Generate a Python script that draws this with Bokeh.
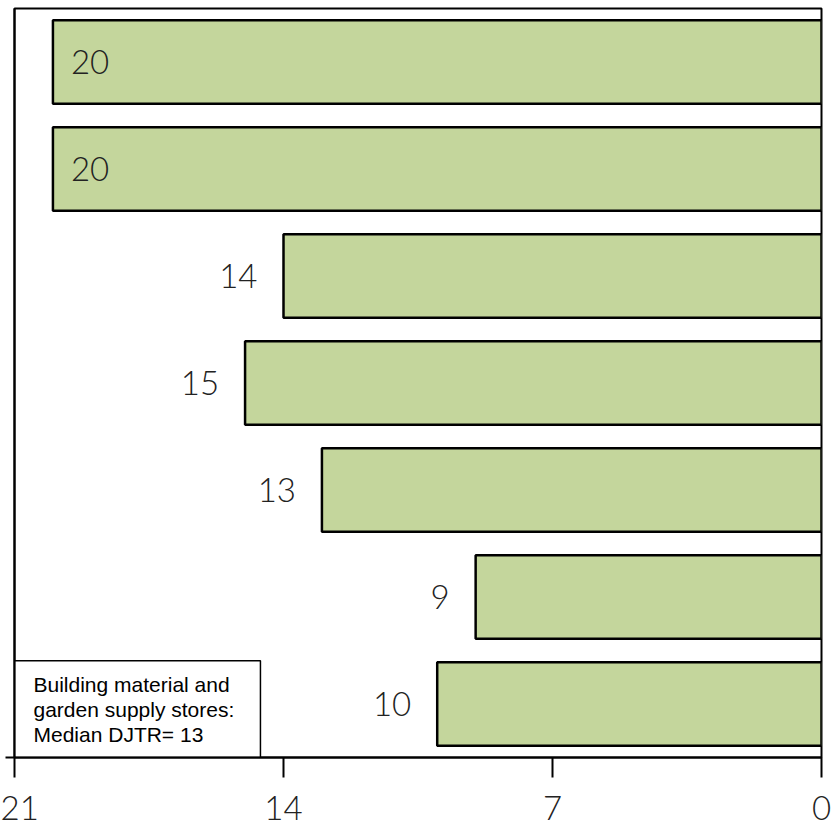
from bokeh.plotting import figure
from bokeh.models import Range1d, FixedTicker, LinearAxis, BoxAnnotation, ColumnDataSource
from bokeh.core.properties import value
from bokeh.embed import file_html
from bokeh.resources import INLINE

# Days-to-run values, top bar first
values = [20, 20, 14, 15, 13, 9, 10]
x_ticks = [21, 14, 7, 0]
note_lines = ["Building material and", "garden supply stores:", "Median DJTR= 13"]

n = len(values)
# row positions: first value drawn at top
rows = [n - 1 - i + 0.5 for i in range(n)]

NUM_FONT = "Lato Light, Lato"

p = figure(width=831, height=828, output_backend="svg", toolbar_location=None,
           x_range=Range1d(21, 0), y_range=Range1d(0, n),
           x_axis_location=None, y_axis_location=None,
           min_border_left=14, min_border_right=10, min_border_top=8, min_border_bottom=71)
p.grid.visible = False
p.outline_line_color = "black"
p.outline_line_width = 2
p.background_fill_color = "white"

# note box in the lower-left corner, kept beneath its text
p.add_layout(BoxAnnotation(left=21, right=14.6, bottom=0, top=0.905,
                           fill_color="white", fill_alpha=1.0,
                           line_color="black", line_alpha=1.0, line_width=1.5,
                           level="underlay"))

src = ColumnDataSource(dict(y=rows, v=values, lab=[str(v) for v in values]))
p.hbar(y="y", left=0, right="v", height=0.78, source=src,
       fill_color="#c4d69c", line_color="black", line_width=2.5)

# labels: inside the bar for long bars, outside for the rest
inside = [v >= 19 for v in values]
in_src = ColumnDataSource(dict(y=[r for r, f in zip(rows, inside) if f],
                               v=[v for v, f in zip(values, inside) if f],
                               lab=[str(v) for v, f in zip(values, inside) if f]))
out_src = ColumnDataSource(dict(y=[r for r, f in zip(rows, inside) if not f],
                                v=[v for v, f in zip(values, inside) if not f],
                                lab=[str(v) for v, f in zip(values, inside) if not f]))
p.text(x="v", y="y", text="lab", source=in_src, x_offset=18,
       text_align="left", text_baseline="middle", text_font=value(NUM_FONT),
       text_font_size="33px", text_color="#222222")
p.text(x="v", y="y", text="lab", source=out_src, x_offset=-26,
       text_align="right", text_baseline="middle", text_font=value(NUM_FONT),
       text_font_size="33px", text_color="#222222")

note_src = ColumnDataSource(dict(x=[21] * len(note_lines),
                                 y=[0.68 - 0.234 * i for i in range(len(note_lines))],
                                 t=note_lines))
p.text(x="x", y="y", text="t", source=note_src, x_offset=19,
       text_align="left", text_baseline="alphabetic",
       text_font=value("Liberation Sans"), text_font_size="21px", text_color="black")

# bottom axis
xa = LinearAxis(ticker=FixedTicker(ticks=x_ticks))
xa.axis_line_color = "black"
xa.axis_line_width = 2
xa.major_tick_out = 20
xa.major_tick_in = 0
xa.major_tick_line_width = 2
xa.minor_tick_out = 0
xa.minor_tick_in = 0
xa.major_label_standoff = 18
xa.major_label_text_font = NUM_FONT
xa.major_label_text_font_size = "33px"
xa.major_label_text_color = "#222222"
p.add_layout(xa, "below")

# left axis: line with a single outward tick at the base
ya = LinearAxis(ticker=FixedTicker(ticks=[0]))
ya.axis_line_color = "black"
ya.axis_line_width = 2
ya.major_tick_out = 9
ya.major_tick_in = 0
ya.major_tick_line_width = 2
ya.minor_tick_out = 0
ya.minor_tick_in = 0
ya.major_label_overrides = {0: ""}
ya.major_label_text_font_size = "1px"
ya.major_label_standoff = 0
p.add_layout(ya, "left")

open("out.html", "w").write(file_html(p, INLINE))
